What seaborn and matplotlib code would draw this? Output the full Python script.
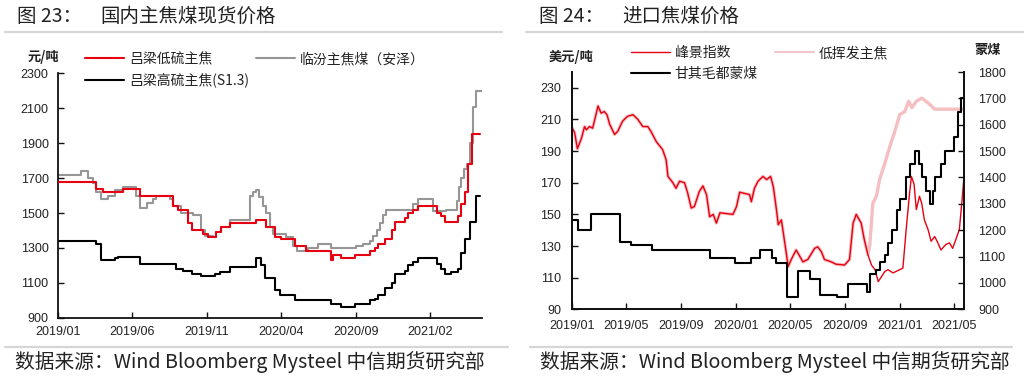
import pandas as pd
import matplotlib
matplotlib.use("Agg")
import matplotlib.pyplot as plt
from matplotlib.lines import Line2D
import seaborn as sns

sns.set_style("ticks")
plt.rcParams["font.family"] = ["Liberation Sans", "Noto Sans CJK SC", "DejaVu Sans"]
plt.rcParams["axes.unicode_minus"] = False
CJK = ["Noto Sans CJK SC", "DejaVu Sans"]

RED = "#E60012"
GRAY = "#969696"
PINK = "#F5BEC0"
BLACK = "#000000"
TXT = "#222222"

# ---------------- 图23 国内主焦煤现货价格 (step series: change date, new price) ----------------
low_s_dates = ["2019-01-01", "2019-03-20", "2019-04-03", "2019-05-14", "2019-06-17", "2019-08-24",
               "2019-09-03", "2019-09-24", "2019-10-01", "2019-10-25", "2019-11-04", "2019-11-21",
               "2019-12-01", "2019-12-18", "2020-02-11", "2020-03-02", "2020-03-19", "2020-04-02",
               "2020-04-29", "2020-05-23", "2020-07-13", "2020-07-17", "2020-08-03", "2020-08-30",
               "2020-09-30", "2020-10-10", "2020-10-17", "2020-10-31", "2020-11-14", "2020-11-21",
               "2020-12-11", "2020-12-18", "2020-12-28", "2021-01-07", "2021-02-14", "2021-02-24",
               "2021-03-03", "2021-03-30", "2021-04-06", "2021-04-13", "2021-04-20", "2021-04-28",
               "2021-05-14"]
low_s_vals = [1680, 1640, 1620, 1640, 1600, 1540,
              1520, 1440, 1400, 1380, 1360, 1390,
              1420, 1440, 1460, 1420, 1360, 1350,
              1310, 1280, 1230, 1260, 1240, 1260,
              1280, 1300, 1320, 1350, 1400, 1450,
              1470, 1500, 1520, 1540, 1500, 1480,
              1450, 1480, 1550, 1620, 1780, 1950,
              1950]

linfen_dates = ["2019-01-01", "2019-02-17", "2019-03-03", "2019-03-13", "2019-03-20", "2019-03-30",
                "2019-04-13", "2019-04-27", "2019-05-14", "2019-06-10", "2019-06-17", "2019-07-01",
                "2019-07-14", "2019-07-21", "2019-08-17", "2019-08-24", "2019-09-10", "2019-10-04",
                "2019-10-21", "2019-10-28", "2019-11-14", "2019-11-21", "2019-12-01", "2019-12-18",
                "2020-01-29", "2020-02-04", "2020-02-11", "2020-02-16", "2020-02-24", "2020-03-02",
                "2020-03-09", "2020-03-16", "2020-04-12", "2020-04-26", "2020-05-03", "2020-05-27",
                "2020-06-16", "2020-07-13", "2020-09-02", "2020-09-16", "2020-09-30", "2020-10-07",
                "2020-10-14", "2020-10-21", "2020-10-28", "2020-11-03", "2020-12-28", "2021-01-07",
                "2021-02-07", "2021-03-06", "2021-03-27", "2021-03-31", "2021-04-06", "2021-04-12",
                "2021-04-18", "2021-04-24", "2021-04-30", "2021-05-05", "2021-05-17"]
linfen_vals = [1720, 1740, 1700, 1670, 1620, 1580,
               1600, 1630, 1650, 1600, 1530, 1560,
               1580, 1600, 1580, 1540, 1500, 1490,
               1400, 1370, 1360, 1390, 1420, 1460,
               1600, 1620, 1630, 1590, 1540, 1500,
               1420, 1380, 1360, 1310, 1280, 1300,
               1320, 1300, 1310, 1320, 1340, 1370,
               1400, 1440, 1490, 1520, 1550, 1580,
               1510, 1520, 1570, 1650, 1700, 1750,
               1780, 1900, 2110, 2200, 2200]

high_s_dates = ["2019-01-01", "2019-03-20", "2019-03-30", "2019-04-27", "2019-05-04", "2019-06-17",
                "2019-08-31", "2019-09-14", "2019-10-01", "2019-10-21", "2019-11-17", "2019-11-28",
                "2019-12-18", "2020-02-11", "2020-02-21", "2020-02-28", "2020-03-19", "2020-03-30",
                "2020-04-29", "2020-07-13", "2020-08-03", "2020-08-30", "2020-09-30", "2020-10-10",
                "2020-10-17", "2020-10-31", "2020-11-14", "2020-11-21", "2020-12-11", "2020-12-18",
                "2020-12-28", "2021-01-07", "2021-02-14", "2021-02-24", "2021-03-03", "2021-03-16",
                "2021-03-30", "2021-04-06", "2021-04-13", "2021-04-23", "2021-05-05", "2021-05-14"]
high_s_vals = [1340, 1320, 1230, 1240, 1250, 1210,
               1180, 1170, 1150, 1140, 1150, 1160,
               1190, 1240, 1200, 1130, 1060, 1030,
               1000, 980, 960, 980, 1000, 1010,
               1030, 1070, 1100, 1150, 1170, 1200,
               1220, 1240, 1210, 1180, 1150, 1160,
               1180, 1270, 1350, 1450, 1600, 1600]

# ---------------- 图24 进口焦煤价格 ----------------
# 峰景指数 and 低挥发主焦 run together until Oct 2020
shared_dates = ["2019-01-01", "2019-01-07", "2019-01-13", "2019-01-22", "2019-01-29", "2019-02-02",
                "2019-02-09", "2019-02-16", "2019-02-20", "2019-02-28", "2019-03-07", "2019-03-14",
                "2019-03-20", "2019-03-26", "2019-04-06", "2019-04-13", "2019-04-24", "2019-05-05",
                "2019-05-17", "2019-05-28", "2019-06-08", "2019-06-19", "2019-06-26", "2019-07-08",
                "2019-07-22", "2019-07-30", "2019-08-03", "2019-08-14", "2019-08-21", "2019-08-29",
                "2019-09-09", "2019-09-16", "2019-09-24", "2019-10-01", "2019-10-12", "2019-10-20",
                "2019-10-28", "2019-11-04", "2019-11-12", "2019-11-19", "2019-11-27", "2019-12-26",
                "2020-01-03", "2020-01-10", "2020-02-01", "2020-02-05", "2020-02-12", "2020-02-20",
                "2020-03-02", "2020-03-10", "2020-03-19", "2020-03-25", "2020-04-01", "2020-04-05",
                "2020-04-12", "2020-04-17", "2020-04-23", "2020-04-27", "2020-05-04", "2020-05-15",
                "2020-05-23", "2020-05-30", "2020-06-10", "2020-06-25", "2020-07-02", "2020-07-10",
                "2020-07-17", "2020-08-01", "2020-08-12", "2020-08-31", "2020-09-11", "2020-09-19",
                "2020-09-26", "2020-10-07", "2020-10-14", "2020-10-22"]
shared_vals = [205, 201.5, 191.5, 198, 205.5, 203.5,
               205.5, 204.5, 209, 218.5, 214, 215,
               213, 207, 200.5, 202.5, 209, 212,
               213, 210, 205.5, 205.5, 202.5, 196,
               191, 184.5, 174, 170, 166.5, 171,
               170, 163.5, 154, 155, 164.5, 168,
               162.5, 148.5, 150, 144.5, 151, 150,
               155, 164, 162.5, 158, 166.5, 171,
               174, 172, 174, 167.5, 153, 143.5,
               146.5, 137, 125.5, 117, 121.5, 127.5,
               123.5, 120, 121.5, 128.5, 129.5, 126.5,
               121.5, 120, 118.5, 118, 121.5, 144.5,
               150, 144.5, 134, 124.5]

fengjing_tail_dates = ["2020-10-30", "2020-11-07", "2020-11-14", "2020-11-21", "2020-11-29", "2020-12-06",
                       "2020-12-17", "2020-12-28", "2021-01-08", "2021-01-16", "2021-01-23", "2021-01-27",
                       "2021-02-02", "2021-02-07", "2021-02-14", "2021-02-19", "2021-02-25", "2021-03-05",
                       "2021-03-12", "2021-03-20", "2021-03-27", "2021-04-03", "2021-04-14", "2021-04-22",
                       "2021-04-29", "2021-05-06", "2021-05-14", "2021-05-20", "2021-05-24"]
fengjing_tail_vals = [118, 115, 107.5, 110.5, 114, 115,
                      113, 114.5, 116, 142.5, 163.5, 174,
                      169, 153, 161.5, 157, 146.5, 140.5,
                      133, 136, 132, 127.5, 131, 132,
                      128.5, 134, 140.5, 159, 173]

lowvol_tail_dates = ["2020-10-26", "2020-11-02", "2020-11-10", "2020-11-17", "2020-11-29", "2020-12-10",
                     "2020-12-21", "2021-01-01", "2021-01-12", "2021-01-21", "2021-01-28", "2021-02-07",
                     "2021-02-19", "2021-03-05", "2021-03-20", "2021-05-24"]
lowvol_tail_vals = [130, 157, 161.5, 172, 182.5, 193,
                    202.5, 213, 215, 221.5, 217.5, 221.5,
                    223.5, 220.5, 216.5, 216.5]

gqmd_dates = ["2019-01-01", "2019-01-14", "2019-02-13", "2019-04-17", "2019-05-13", "2019-06-29",
              "2019-11-04", "2019-12-30", "2020-02-05", "2020-02-24", "2020-03-21", "2020-04-01",
              "2020-04-25", "2020-05-19", "2020-06-14", "2020-07-07", "2020-08-13", "2020-09-08",
              "2020-10-19", "2020-10-26", "2020-11-10", "2020-11-18", "2020-11-29", "2020-12-06",
              "2020-12-14", "2020-12-25", "2021-01-01", "2021-01-16", "2021-01-23", "2021-02-03",
              "2021-02-14", "2021-02-20", "2021-03-01", "2021-03-09", "2021-03-16", "2021-03-20",
              "2021-04-02", "2021-04-11", "2021-05-03", "2021-05-11", "2021-05-18", "2021-05-24"]
gqmd_vals = [1240, 1200, 1260, 1155, 1145, 1125,
             1095, 1075, 1095, 1125, 1095, 1075,
             945, 1045, 1015, 955, 945, 995,
             965, 1035, 1050, 1080, 1105, 1150,
             1200, 1275, 1320, 1400, 1450, 1500,
             1450, 1400, 1350, 1300, 1350, 1400,
             1450, 1500, 1555, 1650, 1700, 1700]

left_ticks = ["2019-01-01", "2019-06-01", "2019-11-01", "2020-04-01", "2020-09-01", "2021-02-01"]
right_ticks = ["2019-01-01", "2019-05-01", "2019-09-01", "2020-01-01", "2020-05-01", "2020-09-01",
               "2021-01-01", "2021-05-01"]


def style_axis(ax):
    ax.tick_params(direction="in", length=4, width=1.0, colors="#111111", labelsize=9,
                   labelcolor=TXT)
    for side in ["left", "bottom", "right"]:
        ax.spines[side].set_linewidth(1.3)
        ax.spines[side].set_color("#111111")
    ax.spines["top"].set_visible(False)
    ax.grid(False)


fig = plt.figure(figsize=(10.32, 3.79), dpi=100)
W, H = 1032, 379


def fx(px):
    return px / W


def fy(py):
    return 1 - py / H


# ----- left chart -----
ax1 = fig.add_axes([fx(58.3), fy(317.7), fx(482 - 58.3), (317.7 - 73.4) / H])
sns.lineplot(x=pd.to_datetime(low_s_dates), y=low_s_vals, ax=ax1, color=RED, lw=1.5,
             drawstyle="steps-post", label="吕梁低硫主焦")
sns.lineplot(x=pd.to_datetime(high_s_dates), y=high_s_vals, ax=ax1, color=BLACK, lw=1.5,
             drawstyle="steps-post", label="吕梁高硫主焦(S1.3)")
sns.lineplot(x=pd.to_datetime(linfen_dates), y=linfen_vals, ax=ax1, color=GRAY, lw=1.5,
             drawstyle="steps-post", label="临汾主焦煤（安泽）")
# red drawn over gray
ax1.get_lines()[0].set_zorder(3)
ax1.set_xlim(pd.Timestamp("2019-01-01"), pd.Timestamp("2021-05-18"))
ax1.set_ylim(900, 2300)
ax1.set_yticks(range(900, 2301, 200))
ax1.set_xticks(pd.to_datetime(left_ticks))
ax1.set_xticklabels([d[:7].replace("-", "/") for d in left_ticks])
ax1.set_xlabel("")
ax1.set_ylabel("")
style_axis(ax1)
ax1.spines["right"].set_visible(False)
ax1.tick_params(axis="x", pad=6)
ax1.tick_params(axis="y", pad=7)
h, l = ax1.get_legend_handles_labels()
ax1.legend(h, l, ncol=2, loc="upper left", bbox_to_anchor=(fx(85), fy(52)),
           bbox_transform=fig.transFigure, frameon=False, prop={"family": CJK, "size": 10},
           handlelength=2.8, handletextpad=0.35, columnspacing=0.5, labelspacing=0.5,
           borderpad=0, borderaxespad=0, labelcolor=TXT)

# ----- right chart -----
ax2 = fig.add_axes([fx(572), fy(309.3), fx(964.3 - 572), (309.3 - 72) / H])
sns.lineplot(x=pd.to_datetime(shared_dates + lowvol_tail_dates), y=shared_vals + lowvol_tail_vals,
             ax=ax2, color=PINK, lw=2.4, label="低挥发主焦")
sns.lineplot(x=pd.to_datetime(shared_dates + fengjing_tail_dates), y=shared_vals + fengjing_tail_vals,
             ax=ax2, color=RED, lw=1.0, label="峰景指数")
ax2.set_xlim(pd.Timestamp("2019-01-01"), pd.Timestamp("2021-05-25"))
ax2.set_ylim(90, 240)
ax2.set_yticks(range(90, 231, 20))
ax2.set_xticks(pd.to_datetime(right_ticks))
ax2.set_xticklabels([d[:7].replace("-", "/") for d in right_ticks])
ax2.set_xlabel("")
ax2.set_ylabel("")
style_axis(ax2)
ax2.tick_params(axis="x", pad=8)
ax2.tick_params(axis="y", pad=8)
ax2.get_legend().remove()

ax3 = ax2.twinx()
sns.lineplot(x=pd.to_datetime(gqmd_dates), y=gqmd_vals, ax=ax3, color=BLACK, lw=1.5,
             drawstyle="steps-post", label="甘其毛都蒙煤")
ax3.set_ylim(900, 1800)
ax3.set_yticks(range(900, 1801, 100))
ax3.set_ylabel("")
style_axis(ax3)
ax3.tick_params(axis="y", pad=10)
ax3.get_legend().remove()

hr = {lab: hd for hd, lab in zip(*ax2.get_legend_handles_labels())}
hr.update({lab: hd for hd, lab in zip(*ax3.get_legend_handles_labels())})
order = ["峰景指数", "甘其毛都蒙煤", "低挥发主焦"]
leg = ax3.legend([hr[k] for k in order], order, ncol=2, loc="upper left",
                 bbox_to_anchor=(fx(631), fy(46)), bbox_transform=fig.transFigure, frameon=False,
                 prop={"family": CJK, "size": 10}, handlelength=2.8, handletextpad=0.35,
                 columnspacing=1.2, labelspacing=0.5, borderpad=0, borderaxespad=0, labelcolor=TXT)
leg.legend_handles[2].set_linewidth(1.3)

# ----- titles, units, sources, rules -----
title_kw = dict(family=CJK, fontsize=14, color=TXT, va="center", ha="left")
fig.text(fx(17), fy(16), "图 23：", **title_kw)
fig.text(fx(100), fy(16), "国内主焦煤现货价格", **title_kw)
fig.text(fx(539), fy(16), "图 24：", **title_kw)
fig.text(fx(622), fy(16), "进口焦煤价格", **title_kw)
fig.text(fx(43), fy(57), "元/吨", family=CJK, fontsize=9.5, weight="bold",
         color=TXT, va="center", ha="center")
fig.text(fx(571), fy(57), "美元/吨", family=CJK, fontsize=9.5, weight="bold",
         color=TXT, va="center", ha="center")
fig.text(fx(988), fy(50), "蒙煤", family=CJK, fontsize=9.5, weight="bold",
         color=TXT, va="center", ha="center")
src = "数据来源：Wind Bloomberg Mysteel 中信期货研究部"
fig.text(fx(15), fy(362), src, family=CJK, fontsize=14.2, color=TXT, va="center", ha="left")
fig.text(fx(540), fy(362), src, family=CJK, fontsize=14.2, color=TXT, va="center", ha="left")

for x0, x1 in [(5, 502), (526, 1023)]:
    fig.add_artist(Line2D([fx(x0), fx(x1)], [fy(32), fy(32)], color="#D6D6D6", lw=1.6))
for x0, x1 in [(5, 508), (530, 1012)]:
    fig.add_artist(Line2D([fx(x0), fx(x1)], [fy(347), fy(347)], color="#D6D6D6", lw=1.6))

fig.savefig("out.png", dpi=100, facecolor="white")
